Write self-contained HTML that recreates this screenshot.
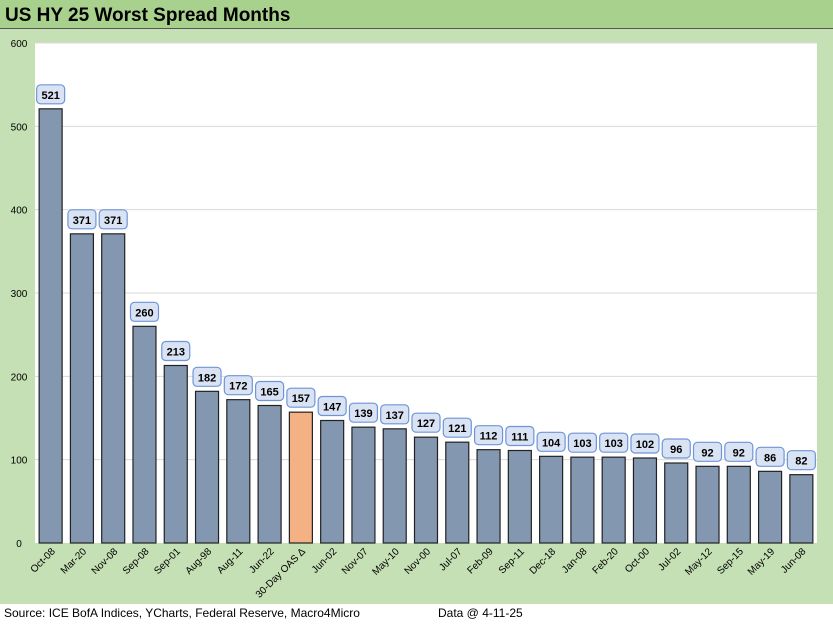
<!DOCTYPE html>
<html><head><meta charset="utf-8"><style>
body{margin:0;width:833px;height:624px;overflow:hidden;background:#fff;font-family:"Liberation Sans",sans-serif}
</style></head><body>
<svg width="833" height="624" xmlns="http://www.w3.org/2000/svg">
<rect x="0" y="0" width="833" height="29" fill="#a9d18e"/>
<line x1="0" y1="28.5" x2="833" y2="28.5" stroke="#555" stroke-width="1"/>
<text x="5" y="21" font-size="19" font-weight="bold" fill="#000">US HY 25 Worst Spread Months</text>
<rect x="0" y="29" width="833" height="575" fill="#c5e0b4"/>
<rect x="35" y="43" width="782" height="500" fill="#fff"/>
<g id="grid"></g><g id="yt"></g><g id="bars"></g><g id="xl"></g>
<text x="4" y="617" font-size="12" fill="#000">Source: ICE BofA Indices, YCharts, Federal Reserve, Macro4Micro</text>
<text x="438" y="617" font-size="12" fill="#000">Data @ 4-11-25</text>
</svg>
<script>
const categories=["Oct-08","Mar-20","Nov-08","Sep-08","Sep-01","Aug-98","Aug-11","Jun-22","30-Day OAS Δ","Jun-02","Nov-07","May-10","Nov-00","Jul-07","Feb-09","Sep-11","Dec-18","Jan-08","Feb-20","Oct-00","Jul-02","May-12","Sep-15","May-19","Jun-08"];
const values=[521,371,371,260,213,182,172,165,157,147,139,137,127,121,112,111,104,103,103,102,96,92,92,86,82];
const highlight=[8];
const yTicks=[0,100,200,300,400,500,600];
const NS="http://www.w3.org/2000/svg";
const x0=35,x1=817,y0=543,y1=43,yMax=600;
const bw=(x1-x0)/categories.length;
const ys=v=>y0-(v/yMax)*(y0-y1);
const xs=i=>x0+bw*(i+0.5);
function mk(t,a,p){const e=document.createElementNS(NS,t);for(const k in a)e.setAttribute(k,a[k]);p.appendChild(e);return e;}
const G=document.getElementById('grid'),YT=document.getElementById('yt'),B=document.getElementById('bars'),XL=document.getElementById('xl');
yTicks.forEach(t=>{
 if(t>0){const l=mk('line',{x1:x0,x2:x1,y1:ys(t),y2:ys(t),stroke:'#d9d9d9','stroke-width':1},G);
 
 }
 const tx=mk('text',{x:19,y:ys(t)+4,'font-size':10,'text-anchor':'middle',fill:'#000'},YT);tx.textContent=t;
 
 
});
values.forEach((v,i)=>{
 const cx=xs(i),w=23,hl=highlight.includes(i);
 const r=mk('rect',{x:cx-w/2,y:ys(v),width:w,height:y0-ys(v),fill:hl?'#f4b183':'#8497b0',stroke:'#222','stroke-width':1.2},B);
 
 
 const bx=mk('rect',{x:cx-14,y:ys(v)-24,width:28,height:19,rx:4,fill:'#dae3f3',stroke:'#6f95d8','stroke-width':1.2},B);
 
 
 const t=mk('text',{x:cx,y:ys(v)-10,'font-size':11,'font-weight':'bold','text-anchor':'middle',fill:'#000'},B);t.textContent=v;
 
 
 const lb=mk('text',{x:0,y:0,'font-size':10,'text-anchor':'end',fill:'#000',transform:`translate(${cx+5},${y0+9}) rotate(-45)`},XL);lb.textContent=categories[i];
 
 
});
</script>
</body></html>
